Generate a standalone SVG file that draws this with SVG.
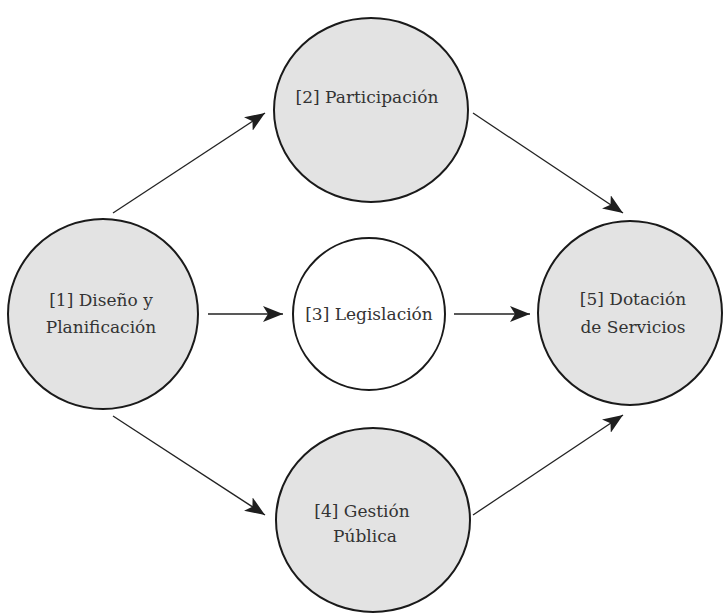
<svg xmlns="http://www.w3.org/2000/svg" width="723" height="614" viewBox="0 0 723 614">
  <style>
    .node { fill: #e3e3e3; stroke: #1a1a1a; stroke-width: 2; }
    .node.plain { fill: #ffffff; }
    .label { font-family: 'DejaVu Serif', 'Liberation Serif', serif; font-size: 17px; fill: #333333; text-anchor: middle; }
    .edge { stroke: #222222; stroke-width: 1.3; fill: none; marker-end: url(#arrow); }
  </style>
  <defs>
    <marker id="arrow" viewBox="-20 -8 20 16" refX="0" refY="0" markerWidth="20" markerHeight="16" markerUnits="userSpaceOnUse" orient="auto">
      <path d="M0,0 L-20,-8 L-15,0 L-20,8 Z" fill="#1e1e1e"/>
    </marker>
  </defs>

  <rect width="723" height="614" fill="#ffffff"/>

  <g id="edges">
    <line class="edge" x1="113" y1="213" x2="265" y2="113"/>
    <line class="edge" x1="473" y1="113" x2="623" y2="213"/>
    <line class="edge" x1="208" y1="314" x2="283" y2="314"/>
    <line class="edge" x1="454" y1="314" x2="530" y2="314"/>
    <line class="edge" x1="113" y1="416" x2="265" y2="515"/>
    <line class="edge" x1="473" y1="515" x2="623" y2="415"/>
  </g>

  <g id="n1">
    <circle class="node" cx="103" cy="314" r="95"/>
    <text class="label" x="101" y="306">[1] Diseño y</text>
    <text class="label" x="101" y="333">Planificación</text>
  </g>

  <g id="n2">
    <ellipse class="node" cx="371" cy="110" rx="97" ry="92"/>
    <text class="label" x="367" y="103">[2] Participación</text>
  </g>

  <g id="n3">
    <circle class="node plain" cx="369" cy="314" r="76"/>
    <text class="label" x="369" y="320">[3] Legislación</text>
  </g>

  <g id="n4">
    <ellipse class="node" cx="373" cy="520" rx="97" ry="92"/>
    <text class="label" x="362" y="517">[4] Gestión</text>
    <text class="label" x="365" y="542">Pública</text>
  </g>

  <g id="n5">
    <circle class="node" cx="630" cy="313" r="92"/>
    <text class="label" x="633" y="305">[5] Dotación</text>
    <text class="label" x="633" y="333">de Servicios</text>
  </g>
</svg>
